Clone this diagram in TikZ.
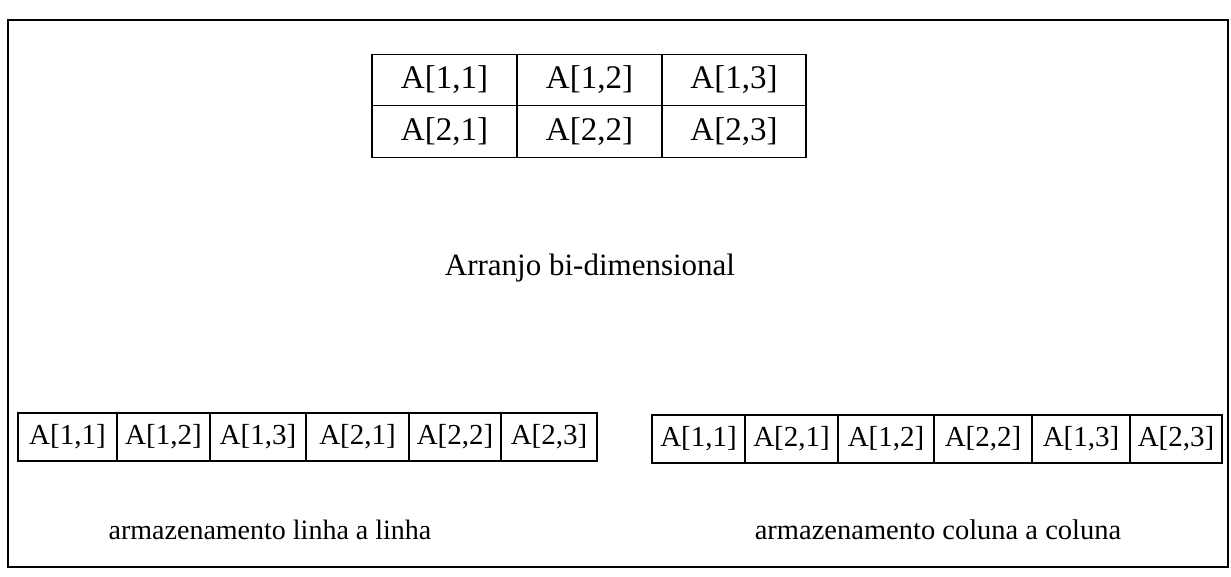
\documentclass[tikz,border=0pt]{standalone}
\usepackage{fontspec}
\setmainfont{Liberation Serif}
\begin{document}
\begin{tikzpicture}[x=1pt,y=-1pt,
  cell/.style={draw, line width=1.3pt, inner sep=0pt, minimum height=#1, font=\fontsize{33}{36}\selectfont},
  rowcell/.style={cell=#1, font=\fontsize{29}{32}\selectfont},
  lab/.style={inner sep=0pt, font=\fontsize{#1}{34}\selectfont}]
\useasboundingbox (0,0) rectangle (1231,576);
\draw[line width=2pt] (8,20) rectangle (1228,567);
% top table
\node[cell=51.5pt, minimum width=145pt] (t11) at (444.5,80) {A[1,1]};
\node[cell=51.5pt, minimum width=145pt] (t12) at (589.5,80) {A[1,2]};
\node[cell=51.5pt, minimum width=144pt] (t13) at (734,80) {A[1,3]};
\node[cell=51.5pt, minimum width=145pt] (t21) at (444.5,131.5) {A[2,1]};
\node[cell=51.5pt, minimum width=145pt] (t22) at (589.5,131.5) {A[2,2]};
\node[cell=51.5pt, minimum width=144pt] (t23) at (734,131.5) {A[2,3]};
\node[lab=31] (arr) at (590,268) {Arranjo bi-dimensional};
% row-major
\node[rowcell=48pt, minimum width=99pt] (l1) at (67.5,437) {A[1,1]};
\node[rowcell=48pt, minimum width=93pt] (l2) at (163.5,437) {A[1,2]};
\node[rowcell=48pt, minimum width=96pt] (l3) at (258,437) {A[1,3]};
\node[rowcell=48pt, minimum width=103pt] (l4) at (357.5,437) {A[2,1]};
\node[rowcell=48pt, minimum width=92pt] (l5) at (455,437) {A[2,2]};
\node[rowcell=48pt, minimum width=96pt] (l6) at (549,437) {A[2,3]};
% column-major
\node[rowcell=48pt, minimum width=93pt] (r1) at (698.5,439) {A[1,1]};
\node[rowcell=48pt, minimum width=93pt] (r2) at (791.5,439) {A[2,1]};
\node[rowcell=48pt, minimum width=96pt] (r3) at (886,439) {A[1,2]};
\node[rowcell=48pt, minimum width=98pt] (r4) at (983,439) {A[2,2]};
\node[rowcell=48pt, minimum width=98pt] (r5) at (1081,439) {A[1,3]};
\node[rowcell=48pt, minimum width=92pt] (r6) at (1176,439) {A[2,3]};
\node[lab=28] (lin) at (270,530) {armazenamento linha a linha};
\node[lab=28.5] (col) at (938,530) {armazenamento coluna a coluna};
\end{tikzpicture}
\end{document}
